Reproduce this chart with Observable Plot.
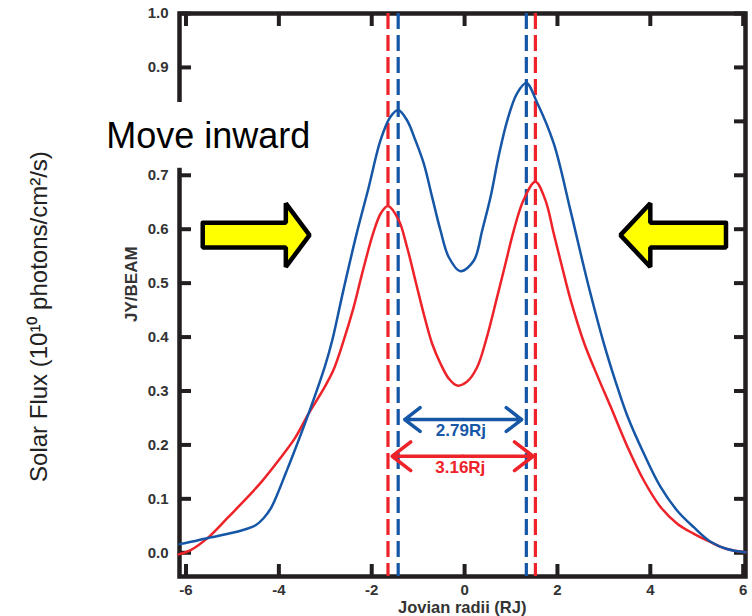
<!DOCTYPE html>
<html>
<head>
<meta charset="utf-8">
<script src="https://cdn.jsdelivr.net/npm/d3@7"></script>
<script src="https://cdn.jsdelivr.net/npm/@observablehq/plot@0.6"></script>
<style>
  html, body { margin: 0; padding: 0; background: #fff; }
  #chart svg { display: block; }
</style>
</head>
<body>
<div id="chart"></div>
<script>
// ---- Data ----
const blueX = [-6.14, -5.8, -5.5, -5.0, -4.7, -4.5, -4.33, -4.17, -4.04, -3.85, -3.68, -3.36, -3.0, -2.85, -2.61, -2.33, -2.07, -1.81, -1.6, -1.43, -1.24, -1.06, -0.88, -0.7, -0.52, -0.34, -0.09, 0.2, 0.38, 0.56, 0.73, 0.92, 1.13, 1.33, 1.56, 1.92, 2.28, 2.64, 3.0, 3.25, 3.5, 3.86, 4.22, 4.58, 4.94, 5.29, 5.65, 6.05];
const blueY = [0.016, 0.022, 0.028, 0.037, 0.044, 0.051, 0.064, 0.083, 0.107, 0.148, 0.185, 0.258, 0.348, 0.394, 0.487, 0.59, 0.676, 0.765, 0.808, 0.821, 0.802, 0.765, 0.722, 0.66, 0.598, 0.548, 0.522, 0.542, 0.598, 0.66, 0.734, 0.802, 0.852, 0.871, 0.835, 0.759, 0.635, 0.505, 0.388, 0.318, 0.255, 0.184, 0.122, 0.078, 0.047, 0.021, 0.007, 0.001];

const redX = [-6.16, -5.9, -5.5, -5.09, -4.73, -4.37, -4.0, -3.65, -3.36, -3.05, -2.82, -2.6, -2.39, -2.2, -1.96, -1.8, -1.65, -1.42, -1.24, -1.06, -0.88, -0.7, -0.52, -0.34, -0.16, 0.05, 0.27, 0.48, 0.7, 0.88, 1.06, 1.27, 1.525, 1.74, 1.92, 2.1, 2.28, 2.57, 2.89, 3.14, 3.5, 3.86, 4.22, 4.58, 4.94, 5.29, 5.65, 6.05];
const redY = [-0.003, 0.005, 0.03, 0.066, 0.098, 0.132, 0.172, 0.213, 0.258, 0.302, 0.34, 0.395, 0.455, 0.52, 0.595, 0.63, 0.643, 0.617, 0.567, 0.505, 0.443, 0.388, 0.351, 0.323, 0.31, 0.317, 0.344, 0.4, 0.474, 0.536, 0.598, 0.654, 0.688, 0.654, 0.592, 0.53, 0.47, 0.39, 0.322, 0.272, 0.198, 0.134, 0.085, 0.054, 0.035, 0.02, 0.007, 0.001];

const xTicks = [-6, -4, -2, 0, 2, 4, 6];
const yTicks = [0, 0.1, 0.2, 0.3, 0.4, 0.5, 0.6, 0.7, 0.8, 0.9, 1.0];
const yHiddenLabels = [0.8]; // covered by the "Move inward" label box

const peakLines = [
  {x: -1.65, series: "red"}, {x: 1.525, series: "red"},
  {x: -1.43, series: "blue"}, {x: 1.33, series: "blue"}
];
const separations = [
  {series: "blue", from: -1.29, to: 1.23, level: 0.247, label: "2.79Rj", labelLevel: 0.216},
  {series: "red", from: -1.56, to: 1.475, level: 0.179, label: "3.16Rj", labelLevel: 0.147}
];
const yellowArrows = [
  {tail: -5.64, base: -3.85, tip: -3.34, level: 0.589},
  {tail: 5.63, base: 4.0, tip: 3.356, level: 0.589}
];

// ---- Styling ----
const BLUE = "#1556a6";
const RED = "#ee2229";
const INK = "#231f20";
const FONT = "Liberation Sans, Arial, sans-serif";
const colorOf = s => s === "blue" ? BLUE : RED;

const blue = blueX.map((x, i) => ({x, y: blueY[i]}));
const red = redX.map((x, i) => ({x, y: redY[i]}));

// block-arrow polygons built from the annotation description (data units)
const headHalf = 0.059, shaftHalf = 0.023;
const arrowPolys = yellowArrows.flatMap((a, k) => {
  const pts = [
    [a.tail, a.level + shaftHalf], [a.base, a.level + shaftHalf], [a.base, a.level + headHalf],
    [a.tip, a.level], [a.base, a.level - headHalf], [a.base, a.level - shaftHalf],
    [a.tail, a.level - shaftHalf], [a.tail, a.level + shaftHalf]
  ];
  return pts.map(([x, y]) => ({x, y, k}));
});

const sepArrows = separations.flatMap(s => {
  const mid = (s.from + s.to) / 2;
  return [{x1: mid, x2: s.from, y: s.level, series: s.series}, {x1: mid, x2: s.to, y: s.level, series: s.series}];
});

const labelBox = [{x1: -7.85, x2: -3.06, y1: 0.713, y2: 0.835}];
const yLabelTicks = yTicks.filter(t => !yHiddenLabels.includes(t));

const chart = Plot.plot({
  width: 752,
  height: 616,
  marginLeft: 179,
  marginRight: 7,
  marginTop: 13,
  marginBottom: 40,
  style: {fontFamily: FONT, background: "#fff", overflow: "visible"},
  x: {domain: [-6.14, 6.05], axis: null},
  y: {domain: [-0.044, 1.0], axis: null},
  marks: [
    // frame and inward ticks
    Plot.frame({stroke: INK, strokeWidth: 4.5}),
    Plot.axisY(yTicks, {anchor: "left", tickSize: 12, dx: 12, tickFormat: () => "", label: null, stroke: INK, strokeWidth: 4}),
    Plot.axisY(yTicks, {anchor: "right", tickSize: 12, dx: -12, tickFormat: () => "", label: null, stroke: INK, strokeWidth: 4}),
    Plot.axisX(xTicks, {anchor: "bottom", tickSize: 12, dy: -12, tickFormat: () => "", label: null, stroke: INK, strokeWidth: 4}),
    Plot.axisX(xTicks, {anchor: "top", tickSize: 12, dy: 12, tickFormat: () => "", label: null, stroke: INK, strokeWidth: 4}),
    // tick labels
    Plot.axisY(yLabelTicks, {anchor: "left", tickSize: 0, tickPadding: 11, tickFormat: d3.format(".1f"), label: null, fill: "#333", fontSize: 15, fontWeight: "bold"}),
    Plot.axisX(xTicks, {anchor: "bottom", tickSize: 0, tickPadding: 7.5, tickFormat: d => String(d), label: null, fill: "#333", fontSize: 15, fontWeight: "bold"}),
    // axis titles
    Plot.text(["Jovian radii (RJ)"], {x: () => -0.05, y: () => -0.1126, text: d => d, lineAnchor: "bottom", fontSize: 16.5, fontWeight: "bold", fill: "#333"}),
    Plot.text(["JY/BEAM"], {x: () => -7.17, y: () => 0.498, text: d => d, rotate: -90, fontSize: 17, fontWeight: "bold", fill: "#333"}),
    Plot.text(["Solar Flux (10¹⁰ photons/cm²/s)"], {x: () => -9.16, y: () => 0.438, text: d => d, rotate: -90, fontSize: 24, fill: "#222"}),
    // peak position dashed lines
    Plot.ruleX(peakLines, {x: "x", stroke: d => colorOf(d.series), strokeWidth: 3.2, strokeDasharray: "16,6"}),
    // curves
    Plot.line(red, {x: "x", y: "y", stroke: RED, strokeWidth: 2.5, curve: "catmull-rom"}),
    Plot.line(blue, {x: "x", y: "y", stroke: BLUE, strokeWidth: 2.5, curve: "catmull-rom"}),
    // separation arrows and labels
    Plot.arrow(sepArrows, {x1: "x1", x2: "x2", y1: "y", y2: "y", stroke: d => colorOf(d.series), strokeWidth: 3.5, headLength: 11, headAngle: 75}),
    Plot.text(separations, {x: d => (d.from + d.to) / 2 - 0.05, y: "labelLevel", text: "label", lineAnchor: "bottom", fill: d => colorOf(d.series), fontSize: 17, fontWeight: "bold"}),
    // yellow block arrows
    Plot.line(arrowPolys, {x: "x", y: "y", z: "k", fill: "#ffff00", stroke: "#000", strokeWidth: 4.5, strokeLinejoin: "miter", curve: "linear"}),
    // label background box and label
    Plot.rect(labelBox, {x1: "x1", x2: "x2", y1: "y1", y2: "y2", fill: "#fff"}),
    Plot.text(["Move inward"], {x: () => -7.72, y: () => 0.75, text: d => d, textAnchor: "start", lineAnchor: "bottom", fontSize: 36, fill: "#000"})
  ]
});

document.getElementById("chart").appendChild(chart);
</script>
</body>
</html>
